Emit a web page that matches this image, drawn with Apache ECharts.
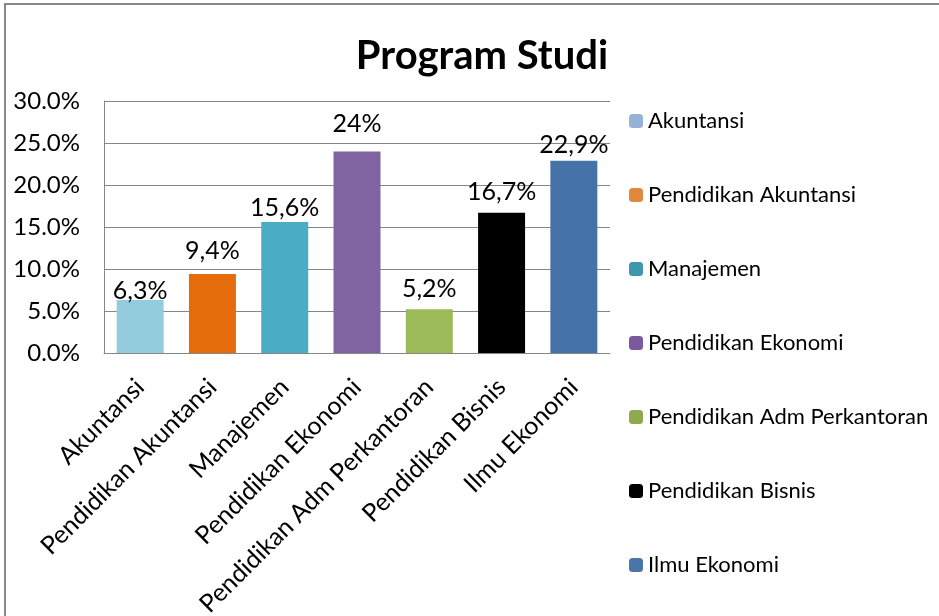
<!DOCTYPE html>
<html>
<head>
<meta charset="utf-8">
<script src="https://cdn.jsdelivr.net/npm/echarts@6/dist/echarts.min.js"></script>
<style>
  html, body { margin: 0; padding: 0; background: #fff; }
  #chart { width: 939px; height: 616px; }
</style>
</head>
<body>
<div id="chart"></div>
<script>
  var categories = ['Akuntansi', 'Pendidikan Akuntansi', 'Manajemen', 'Pendidikan Ekonomi',
    'Pendidikan Adm Perkantoran', 'Pendidikan Bisnis', 'Ilmu Ekonomi'];
  var values = [6.3, 9.4, 15.6, 24, 5.2, 16.7, 22.9];
  var barColors = ['#93cddd', '#e46c0a', '#4bacc6', '#8064a2', '#9bbb59', '#000000', '#4572a7'];
  var legendColors = ['#95b3d7', '#e0883e', '#3d97ad', '#7a5a9c', '#8eaa4e', '#000000', '#4a75ab'];
  // labels were nudged by hand in the original, keep the same look
  var labelShift = [6, -8, 1, -12, -5, -5, 0];

  var font = 'Lato, "Open Sans", sans-serif';

  // one series per category, stacked so each bar sits centered in its slot
  var series = categories.map(function (name, i) {
    var data = categories.map(function (c, j) { return j === i ? values[i] : '-'; });
    return {
      name: name,
      type: 'bar',
      stack: 'all',
      barWidth: '65%',
      data: data,
      itemStyle: { color: barColors[i] },
      label: {
        show: true,
        position: 'top',
        distance: 3,
        offset: [0, labelShift[i]],
        color: '#000',
        fontFamily: font,
        fontSize: 25,
        formatter: function (p) {
          return String(p.value).replace('.', ',') + '%';
        }
      }
    };
  });

  var myChart = echarts.init(document.getElementById('chart'));
  myChart.setOption({
    animation: false,
    title: {
      text: 'Program Studi',
      left: 477,
      textAlign: 'center',
      top: 31,
      textStyle: { fontFamily: font, fontSize: 40, fontWeight: 'bold', color: '#000' }
    },
    graphic: [{
      type: 'rect',
      shape: { x: 5, y: 4, width: 1000, height: 700 },
      style: { fill: 'none', stroke: '#888888', lineWidth: 2 },
      silent: true
    }],
    legend: {
      orient: 'vertical',
      left: 624,
      top: 104,
      itemWidth: 14,
      itemHeight: 14,
      itemGap: 50,
      data: categories.map(function (c, i) {
        return { name: c, itemStyle: { color: legendColors[i] } };
      }),
      textStyle: { fontFamily: font, fontSize: 22, color: '#000', lineHeight: 24 }
    },
    grid: {
      left: 104, right: 329, top: 101, bottom: 263,
      containLabel: false,
      outerBoundsMode: 'none'
    },
    xAxis: {
      type: 'category',
      data: categories,
      axisLine: { lineStyle: { color: '#868686', width: 1 } },
      axisTick: { show: false },
      axisLabel: {
        interval: 0,
        rotate: 45,
        margin: 30,
        color: '#000',
        fontFamily: font,
        fontSize: 25
      }
    },
    yAxis: {
      type: 'value',
      min: 0,
      max: 30,
      interval: 5,
      axisLine: { show: true, lineStyle: { color: '#868686', width: 1 } },
      axisTick: { show: false },
      splitLine: { lineStyle: { color: '#868686', width: 1 } },
      axisLabel: {
        margin: 24,
        color: '#000',
        fontFamily: font,
        fontSize: 24,
        formatter: function (v) { return v.toFixed(1) + '%'; }
      }
    },
    series: series
  });
</script>
</body>
</html>
